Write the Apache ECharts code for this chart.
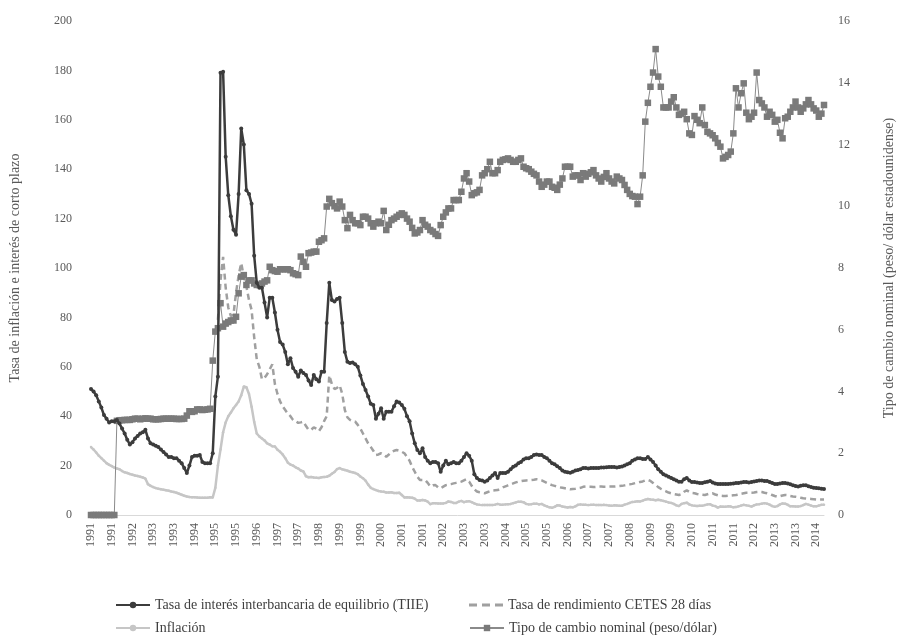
<!DOCTYPE html>
<html>
<head>
<meta charset="utf-8">
<script src="https://cdn.jsdelivr.net/npm/echarts@6/dist/echarts.min.js"></script>
<style>
  html, body { margin: 0; padding: 0; background: #fff; }
  #chart { width: 899px; height: 638px; }
</style>
</head>
<body>
<div id="chart"></div>
<script>
// monthly series, Jan 1991 .. Aug 2014 (284 months)
const startYear = 1991;
const monthCount = 284;

const tiie = [
  51, 50, 48.5, 46, 43.5, 40.5, 39, 37.5, 38, 38, 38.5, 37,
  35, 33, 30.5, 28.5, 29.5, 31, 32, 33, 33.5, 34.5, 31, 29,
  28.5, 28, 27.5, 26.5, 25.5, 24.5, 23.5, 23.5, 23, 23, 22, 21,
  19, 17, 20, 23.5, 24, 24, 24.3, 21.5, 21, 21, 21, 25,
  48, 56, 179, 179.5, 145, 129.5, 121, 115.5, 113.5, 130, 156.5, 150,
  131.5, 130, 126, 105, 94, 92, 92, 86, 80, 88, 88, 82,
  75, 70, 69, 66, 61, 63.5, 59.5, 58, 56, 58.5, 57.5, 56.7,
  54.5, 52.6, 56.7, 55, 54, 58, 58, 77.7, 94, 87, 86.4, 87.5,
  88, 77.7, 66, 62, 61.5, 61.7, 61, 60, 56.5, 53, 50.6, 48,
  45, 44.5, 39, 41, 43.2, 39, 41.8, 41.8, 41.8, 44, 46, 45.5,
  44.5, 43, 40, 38, 33, 29, 26.3, 25, 27, 23.5, 22, 21,
  21.5, 21.5, 21, 17.5, 20, 22, 20.5, 21, 21.5, 21, 21, 22,
  23.5, 25, 24, 22, 16.5, 15, 14.2, 14, 13.5, 14, 15, 16,
  17, 15, 17, 17, 17, 17.5, 18.5, 19.5, 20, 21, 21.5, 22.5,
  23, 23, 23.5, 24.3, 24.5, 24.3, 24.3, 23.5, 23, 22, 21, 20.5,
  19.7, 19, 18, 17.5, 17.3, 17.1, 17.5, 18, 18.2, 18.5, 19, 19,
  18.8, 19, 19, 19, 19, 19.2, 19.2, 19.3, 19.4, 19.4, 19.4, 19.2,
  19.4, 19.6, 20, 20.5, 21, 22, 22.5, 23, 23, 22.7, 22.7, 23.5,
  22.5, 21.5, 20, 18.5, 17.5, 16.5, 16, 15.5, 15, 14.5, 14, 13.5,
  13.5, 14.5, 15, 14, 13.4, 13.4, 13.2, 13, 13, 13.3, 13.5, 13.8,
  13.2, 12.8, 12.6, 12.6, 12.6, 12.6, 12.6, 12.7, 12.8, 13, 13, 13.2,
  13.4, 13.4, 13.2, 13.4, 13.6, 13.8, 14, 14, 13.8, 13.8, 13.4, 13,
  12.6, 12.6, 12.8, 13, 13, 12.8, 12.4, 12, 11.7, 11.5, 11.8, 12,
  12, 11.6, 11.3, 11, 10.9, 10.8, 10.6, 10.5
];

const cetes = [
  null, null, null, null, null, null, null, null, null, null, null, null,
  null, null, null, null, null, null, null, null, null, null, null, null,
  null, null, null, null, null, null, null, null, null, null, null, null,
  null, null, null, null, null, null, null, null, null, null, null, null,
  null, 79, 95, 104.5, 92, 84, 80.5, 81, 90, 97, 102, 96.5,
  92.5, 87, 83, 72, 63, 60, 55, 55.5, 57, 59, 61, 53,
  49, 46, 44, 42.5, 41, 40, 38.5, 38, 37.3, 37.5, 37.8, 36,
  34.5, 34.5, 35.5, 35, 34, 35.5, 38, 40, 56.5, 53, 51, 51.5,
  52.5, 49, 42.5, 39.5, 38.5, 38, 37.8, 36.5, 35, 33, 31, 29,
  27.6, 26, 24.3, 24.5, 25, 24.3, 23.6, 24.5, 25.5, 26, 26.3, 26,
  25.6, 25, 23.5, 22, 19.5, 17.5, 15.5, 14.2, 14.2, 14.2, 13, 11.5,
  12, 12.1, 11.2, 10.8, 11.5, 12.1, 12.3, 12.5, 12.8, 13, 13.2, 13.5,
  14, 14.5, 13.5, 11.8, 10.5, 9.5, 9.2, 9, 8.8, 9.2, 9.6, 9.9,
  10, 10.1, 10.6, 11.2, 11.6, 12, 12.4, 12.8, 13.2, 13.5, 13.7, 13.9,
  14, 14.1, 14.2, 14.3, 14.5, 14.3, 14, 13.5, 13, 12.5, 12.1, 11.8,
  11.5, 11.2, 11, 10.8, 10.6, 10.4, 10.5, 10.6, 10.8, 11, 11.4, 11.5,
  11.4, 11.4, 11.3, 11.4, 11.5, 11.5, 11.4, 11.4, 11.5, 11.5, 11.5, 11.6,
  11.7, 11.8, 12, 12.2, 12.4, 12.6, 12.9, 13.2, 13.4, 13.6, 14, 14.2,
  13.8, 13, 12.2, 11.3, 10.6, 10.1, 9.6, 9.1, 8.8, 8.5, 8.3, 8.1,
  8.5, 9.4, 10, 9.4, 8.9, 8.8, 8.5, 8.3, 8.2, 8.1, 8.4, 8.7,
  8.8, 8.3, 8, 7.8, 7.7, 7.7, 7.8, 7.9, 8, 8.1, 8.3, 8.6,
  8.8, 9, 9, 9, 9.1, 9.3, 9.4, 9.3, 9, 8.8, 8.5, 8.1,
  7.7, 7.4, 7.6, 7.9, 8.1, 8, 7.7, 7.5, 7.4, 7.2, 7, 6.8,
  6.7, 6.6, 6.5, 6.4, 6.3, 6.3, 6.3, 6.3
];

const inflacion = [
  27.5, 26.5, 25.3, 24, 23, 22, 21, 20.3, 19.8, 19.2, 18.8, 18.5,
  17.8, 17.3, 17, 16.6, 16.3, 16, 15.8, 15.5, 15.2, 14.7, 12.5, 11.8,
  11.3, 10.9, 10.6, 10.4, 10.2, 10, 9.8, 9.5, 9.3, 9, 8.6, 8.2,
  7.8, 7.5, 7.3, 7.2, 7.2, 7.1, 7, 7, 7, 7, 7.2, 7.1,
  11, 20, 26.5, 33.5, 37.5, 40, 41.5, 43.2, 44.5, 46, 48.5, 52,
  51.7, 49, 43.8, 37.7, 33, 31.8, 31, 30.2, 29, 28.5, 27.8, 27.7,
  26.4, 25.6, 24.5, 23, 21.2, 20.4, 20, 19.3, 18.8, 18, 17.6, 15.7,
  15.3, 15.4, 15.2, 15.1, 15, 15.3, 15.4, 15.5, 15.9, 16.7, 17.4, 18.6,
  19, 18.5, 18.2, 17.9, 17.5, 17.3, 17, 16.5, 15.6, 14.9, 13.9, 12.3,
  11, 10.5, 10.1, 9.7, 9.5, 9.4, 9.1, 9.1, 9.2, 8.9, 8.9, 9,
  8.1, 7.1, 7.2, 7.1, 7, 6.6, 5.9, 5.9, 6.1, 5.9, 5.4, 4.4,
  4.8, 4.8, 4.7, 4.7, 4.7, 4.9, 5.5, 5.3, 4.9, 4.9, 5.4, 5.7,
  5.2, 5.5, 5.6, 5.2, 4.7, 4.3, 4.1, 4, 4, 4, 4, 4,
  4.2, 4.5, 4.2, 4.2, 4.3, 4.4, 4.5, 4.8, 5.1, 5.4, 5.4, 5.2,
  4.5, 4.3, 4.4, 4.6, 4.6, 4.3, 4.5, 3.9, 3.5, 3.1, 2.9, 3.3,
  3.9, 3.8, 3.4, 3.2, 3, 3.2, 3.1, 3.5, 4.1, 4.3, 4.1, 4.1,
  4, 4.1, 4.2, 4, 4, 4, 4.1, 4, 3.8, 3.7, 3.9, 3.8,
  3.7, 3.7, 4.2, 4.5, 4.9, 5.3, 5.4, 5.6, 5.5, 5.8, 6.2, 6.5,
  6.3, 6.2, 6, 6.2, 6, 5.7, 5.4, 5.1, 4.9, 4.5, 3.9, 3.6,
  4.5, 4.8, 5, 4.3, 3.9, 3.7, 3.6, 3.7, 3.7, 4, 4.3, 4.4,
  3.8, 3.6, 3, 3.4, 3.3, 3.3, 3.5, 3.4, 3.1, 3.2, 3.5, 3.8,
  4.1, 3.9, 3.7, 3.4, 3.9, 4.3, 4.4, 4.6, 4.8, 4.6, 4.2, 3.6,
  3.3, 3.6, 4.3, 4.7, 4.6, 4.1, 3.5, 3.5, 3.4, 3.4, 3.6, 4,
  4.5, 4.2, 3.8, 3.5, 3.5, 3.8, 4.1, 4.2
];

const tipoCambio = [
  0, 0, 0, 0, 0, 0, 0, 0, 0, 0, 3.05, 3.07,
  3.07, 3.08, 3.08, 3.08, 3.1, 3.12, 3.12, 3.1, 3.12, 3.13, 3.12, 3.12,
  3.1, 3.1, 3.1, 3.11, 3.12, 3.12, 3.12, 3.12, 3.12, 3.11, 3.11, 3.11,
  3.12, 3.22, 3.36, 3.34, 3.36, 3.42, 3.42, 3.4, 3.41, 3.42, 3.44, 5,
  5.94, 6.05, 6.86, 6.1, 6.2, 6.25, 6.3, 6.3, 6.42, 7.18, 7.72, 7.77,
  7.45, 7.6, 7.6, 7.5, 7.45, 7.45, 7.5, 7.56, 7.6, 8.04, 7.93, 7.9,
  7.88, 7.96, 7.96, 7.96, 7.96, 7.93, 7.83, 7.8, 7.77, 8.37, 8.2, 8.04,
  8.48, 8.5, 8.53, 8.53, 8.85, 8.9, 8.96, 9.99, 10.24, 10.1, 10, 9.93,
  10.15, 9.99, 9.55, 9.29, 9.72, 9.55, 9.45, 9.45, 9.39, 9.66, 9.66, 9.6,
  9.45, 9.34, 9.45, 9.5, 9.45, 9.85, 9.23, 9.4, 9.55, 9.6, 9.66, 9.72,
  9.77, 9.72, 9.6, 9.5, 9.3, 9.12, 9.15, 9.23, 9.55, 9.4, 9.34, 9.23,
  9.18, 9.1, 9.04, 9.39, 9.66, 9.8, 9.93, 9.93, 10.2, 10.2, 10.2, 10.47,
  10.9, 11.07, 10.8, 10.36, 10.42, 10.45, 10.53, 11, 11.07, 11.2, 11.44, 11.07,
  11.07, 11.17, 11.44, 11.5, 11.52, 11.55, 11.5, 11.44, 11.44, 11.5, 11.55, 11.28,
  11.23, 11.2, 11.12, 11.05, 11, 10.8, 10.63, 10.7, 10.8, 10.8, 10.63, 10.6,
  10.53, 10.7, 10.9, 11.28, 11.28, 11.28, 10.96, 11, 11, 10.85, 11.07, 10.96,
  11.05, 11.1, 11.17, 11, 10.9, 10.8, 10.95, 11.07, 10.9, 10.8, 10.74, 10.96,
  10.9, 10.85, 10.69, 10.53, 10.4, 10.33, 10.31, 10.07, 10.31, 11, 12.74, 13.35,
  13.87, 14.33, 15.09, 14.2, 13.87, 13.2, 13.2, 13.2, 13.39, 13.53, 13.2, 12.96,
  13, 13.06, 12.82, 12.36, 12.31, 12.92, 12.8, 12.69, 13.2, 12.63, 12.41, 12.36,
  12.3, 12.2, 12.05, 11.93, 11.55, 11.6, 11.66, 11.77, 12.36, 13.82, 13.2, 13.66,
  13.98, 13.03, 12.82, 12.9, 13.03, 14.33, 13.44, 13.33, 13.2, 12.9, 13.06, 12.96,
  12.74, 12.8, 12.38, 12.2, 12.85, 12.9, 13.06, 13.2, 13.39, 13.2, 13.06, 13.17,
  13.3, 13.44, 13.3, 13.17, 13.1, 12.9, 13, 13.28
];

const seriesNames = [
  "Tasa de interés interbancaria de equilibrio (TIIE)",
  "Tasa de rendimiento CETES 28 días",
  "Inflación",
  "Tipo de cambio nominal (peso/dólar)"
];

// month categories, shown as year on the axis
const months = [];
for (let k = 0; k < monthCount; k++) {
  const y = startYear + Math.floor(k / 12);
  const m = (k % 12) + 1;
  months.push(y + "-" + (m < 10 ? "0" + m : m));
}

const serif = "Liberation Serif";
const textGrey = "#595959";

// one legend block per entry so the 2x2 layout stays fixed
function legendAt(item, left, top, h) {
  return {
    left: left,
    top: top,
    itemWidth: 34,
    itemHeight: h || 8,
    textStyle: { fontFamily: serif, fontSize: 14, color: "#404040" },
    data: [item]
  };
}

// three short dashes for the CETES key
const dashIcon = "path://M0,0h8v3h-8z M13,0h8v3h-8z M26,0h8v3h-8z";

const chart = echarts.init(document.getElementById("chart"), null, { renderer: "canvas" });

chart.setOption({
  animation: false,
  backgroundColor: "#fff",
  textStyle: { fontFamily: serif },
  grid: {
    left: 91, right: 75, top: 21, bottom: 123,
    containLabel: false,
    outerBoundsMode: "none"
  },
  legend: [
    legendAt(seriesNames[0], 110, 593),
    legendAt(seriesNames[2], 110, 616),
    legendAt({ name: seriesNames[1], icon: dashIcon }, 464, 593, 3),
    legendAt(seriesNames[3], 464, 616)
  ],
  xAxis: {
    type: "category",
    data: months,
    boundaryGap: false,
    axisLine: { lineStyle: { color: "#d9d9d9", width: 1 } },
    axisTick: { show: false },
    axisLabel: {
      interval: 7,
      rotate: 90,
      margin: 8,
      fontFamily: serif,
      fontSize: 12,
      color: textGrey,
      formatter: v => v.slice(0, 4)
    },
    splitLine: { show: false }
  },
  yAxis: [
    {
      type: "value",
      min: 0,
      max: 200,
      interval: 20,
      name: "Tasa de inflación e interés de corto plazo",
      nameLocation: "middle",
      nameGap: 69,
      nameRotate: 90,
      nameTextStyle: { fontFamily: serif, fontSize: 14, color: textGrey },
      axisLine: { show: false },
      axisTick: { show: false },
      axisLabel: { fontFamily: serif, fontSize: 12, color: textGrey, margin: 19 },
      splitLine: { show: false }
    },
    {
      type: "value",
      min: 0,
      max: 16,
      interval: 2,
      position: "right",
      name: "Tipo de cambio nominal (peso/ dólar estadounidense)",
      nameLocation: "middle",
      nameGap: 58,
      nameRotate: 90,
      nameTextStyle: { fontFamily: serif, fontSize: 14, color: textGrey },
      axisLine: { show: false },
      axisTick: { show: false },
      axisLabel: { fontFamily: serif, fontSize: 12, color: textGrey, margin: 14 },
      splitLine: { show: false }
    }
  ],
  series: [
    {
      name: seriesNames[2],
      type: "line",
      data: inflacion,
      symbol: "circle",
      symbolSize: 2.5,
      showSymbol: true,
      showAllSymbol: true,
      itemStyle: { color: "#c6c6c6" },
      lineStyle: { color: "#c6c6c6", width: 2.5 },
      z: 2
    },
    {
      name: seriesNames[1],
      type: "line",
      data: cetes,
      symbol: "none",
      itemStyle: { color: "#a0a0a0" },
      lineStyle: { color: "#a0a0a0", width: 2.5, type: [6, 4] },
      z: 3
    },
    {
      name: seriesNames[3],
      type: "line",
      yAxisIndex: 1,
      data: tipoCambio,
      symbol: "rect",
      symbolSize: 6.5,
      showSymbol: true,
      showAllSymbol: true,
      itemStyle: { color: "#7a7a7a" },
      lineStyle: { color: "#8a8a8a", width: 1 },
      z: 4
    },
    {
      name: seriesNames[0],
      type: "line",
      data: tiie,
      symbol: "circle",
      symbolSize: 4,
      showSymbol: true,
      showAllSymbol: true,
      itemStyle: { color: "#3c3c3c" },
      lineStyle: { color: "#3c3c3c", width: 2.5 },
      z: 5
    }
  ]
});
</script>
</body>
</html>
